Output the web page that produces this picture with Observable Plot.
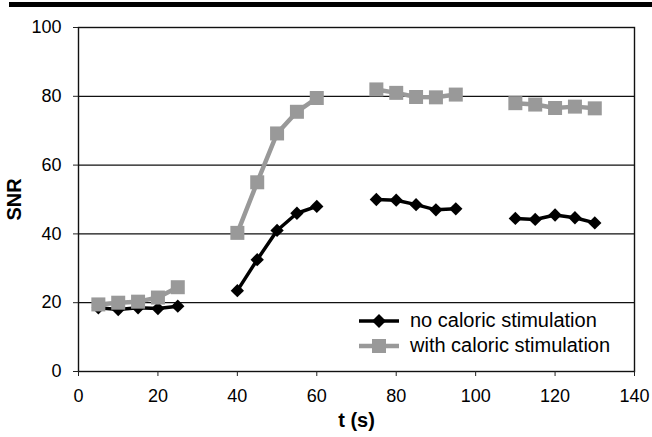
<!DOCTYPE html>
<html>
<head>
<meta charset="utf-8">
<script src="https://cdn.jsdelivr.net/npm/d3@7"></script>
<script src="https://cdn.jsdelivr.net/npm/@observablehq/plot@0.6"></script>
<style>
  html, body { margin: 0; padding: 0; background: #fff; }
  #wrap { position: relative; width: 652px; height: 437px; font-family: "Liberation Sans", Arial, sans-serif; }
  #bar { position: absolute; left: 9px; right: 0; top: 2px; height: 5px; background: #000; }
  #legend { position: absolute; left: 358px; top: 308px; font-size: 20px; color: #000; line-height: 25px; }
  #legend .row { display: flex; align-items: center; height: 25px; }
  #legend svg { margin-right: 10px; }
  g[aria-label="x-axis label"] text, g[aria-label="y-axis label"] text { font-weight: bold; font-size: 20px; }
</style>
</head>
<body>
<div id="wrap">
  <div id="chart"></div>
  <div id="bar"></div>
  <div id="legend"></div>
</div>
<script>
// Data
const times = [5, 10, 15, 20, 25, 40, 45, 50, 55, 60, 75, 80, 85, 90, 95, 110, 115, 120, 125, 130];
const blocks = [1, 1, 1, 1, 1, 2, 2, 2, 2, 2, 3, 3, 3, 3, 3, 4, 4, 4, 4, 4];
const noStim = [18.5, 18, 18.5, 18.3, 19, 23.5, 32.5, 41, 46, 48, 50, 49.8, 48.5, 47, 47.3, 44.5, 44.2, 45.5, 44.7, 43.2];
const withStim = [19.5, 20, 20.3, 21.5, 24.5, 40.3, 55, 69.2, 75.5, 79.5, 82, 81, 79.8, 79.7, 80.5, 78, 77.6, 76.6, 77, 76.5];
const seriesNames = ["no caloric stimulation", "with caloric stimulation"];
const xTicks = [0, 20, 40, 60, 80, 100, 120, 140];
const yTicks = [0, 20, 40, 60, 80, 100];

const rows = times.map((t, i) => ({ t, block: blocks[i], noStim: noStim[i], withStim: withStim[i] }));

const grey = "#999999";

const chart = Plot.plot({
  width: 652,
  height: 437,
  marginLeft: 78,
  marginRight: 18,
  marginTop: 27,
  marginBottom: 66,
  style: { fontFamily: "Liberation Sans, Arial, sans-serif", fontSize: "18px", color: "#000", background: "#fff" },
  x: { domain: [0, 140] },
  y: { domain: [0, 100] },
  marks: [
    Plot.gridY(yTicks, { stroke: "#111", strokeOpacity: 1, strokeWidth: 1.2 }),
    Plot.frame({ stroke: "#111", strokeWidth: 1.4 }),
    Plot.axisY(yTicks, { tickSize: 5, tickPadding: 12, label: "SNR", labelAnchor: "center", labelArrow: "none", labelOffset: 72, stroke: "#222" }),
    Plot.axisX(xTicks, { tickSize: 5, tickPadding: 13, label: "t (s)", labelAnchor: "center", labelArrow: "none", labelOffset: 55, stroke: "#222" }),
    Plot.lineY(rows, { x: "t", y: "noStim", z: "block", stroke: "#000", strokeWidth: 3.5 }),
    Plot.dot(rows, { x: "t", y: "noStim", symbol: "diamond2", r: 6, fill: "#000", stroke: "none" }),
    Plot.lineY(rows, { x: "t", y: "withStim", z: "block", stroke: grey, strokeWidth: 4.5 }),
    Plot.dot(rows, { x: "t", y: "withStim", symbol: "square", r: 7.9, fill: grey, stroke: "none" })
  ]
});
document.getElementById("chart").appendChild(chart);

// Legend
const legend = document.getElementById("legend");
const swatches = [
  `<svg width="42" height="16"><line x1="1" y1="8" x2="41" y2="8" stroke="#000" stroke-width="3.5"/><path d="M21,1L28,8L21,15L14,8Z" fill="#000"/></svg>`,
  `<svg width="42" height="16"><line x1="1" y1="8" x2="41" y2="8" stroke="${grey}" stroke-width="4.5"/><rect x="14" y="1" width="14" height="14" fill="${grey}"/></svg>`
];
seriesNames.forEach((name, i) => {
  const row = document.createElement("div");
  row.className = "row";
  row.innerHTML = swatches[i] + `<span>${name}</span>`;
  legend.appendChild(row);
});
</script>
</body>
</html>
